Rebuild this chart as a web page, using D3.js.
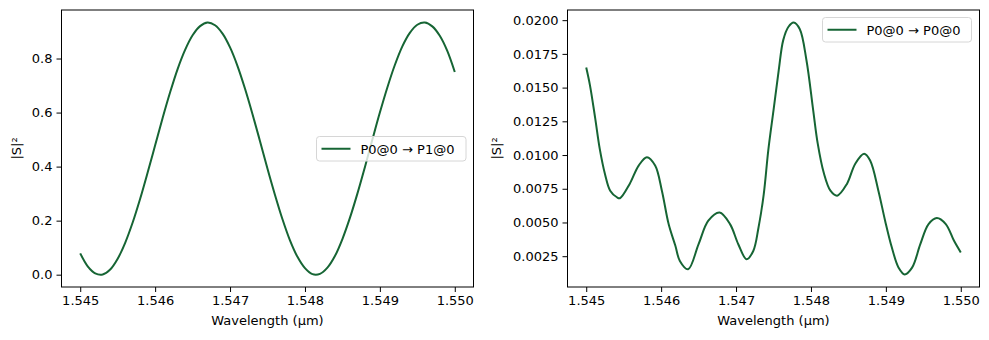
<!DOCTYPE html>
<html>
<head>
<meta charset="utf-8">
<script src="https://cdn.jsdelivr.net/npm/d3@7"></script>
<style>
  body { margin: 0; background: #fff; }
  svg text { font-family: "DejaVu Sans", sans-serif; }
</style>
</head>
<body>
<svg id="chart" width="989" height="340"></svg>
<script>
// left panel: P0@0 -> P1@0, sampled every 0.1 nm
const leftWavelength = [
  1.5450, 1.5451, 1.5452, 1.5453, 1.5454, 1.5455, 1.5456, 1.5457, 1.5458, 1.5459,
  1.5460, 1.5461, 1.5462, 1.5463, 1.5464, 1.5465, 1.5466, 1.5467, 1.5468, 1.5469,
  1.5470, 1.5471, 1.5472, 1.5473, 1.5474, 1.5475, 1.5476, 1.5477, 1.5478, 1.5479,
  1.5480, 1.5481, 1.5482, 1.5483, 1.5484, 1.5485, 1.5486, 1.5487, 1.5488, 1.5489,
  1.5490, 1.5491, 1.5492, 1.5493, 1.5494, 1.5495, 1.5496, 1.5497, 1.5498, 1.5499,
  1.5500];
const leftPower = [
  0.079, 0.031, 0.005, 0.001, 0.019, 0.059, 0.118, 0.193, 0.281, 0.378,
  0.479, 0.580, 0.675, 0.761, 0.832, 0.886, 0.920, 0.933, 0.923, 0.892,
  0.841, 0.772, 0.688, 0.594, 0.494, 0.392, 0.295, 0.205, 0.127, 0.066,
  0.024, 0.002, 0.003, 0.026, 0.069, 0.132, 0.210, 0.300, 0.398, 0.500,
  0.600, 0.693, 0.776, 0.845, 0.895, 0.925, 0.933, 0.919, 0.884, 0.828,
  0.750];

// right panel: P0@0 -> P0@0 (reflection)
const rightWavelength = [
  1.54500, 1.54505, 1.54512, 1.54518, 1.54525, 1.54532, 1.54541, 1.54545, 1.54558, 1.54570,
  1.54581, 1.54592, 1.54601, 1.54610, 1.54619, 1.54625, 1.54636, 1.54650, 1.54663, 1.54678,
  1.54692, 1.54703, 1.54714, 1.54723, 1.54730, 1.54737, 1.54743, 1.54750, 1.54757, 1.54763,
  1.54770, 1.54777, 1.54785, 1.54794, 1.54803, 1.54809, 1.54817, 1.54826, 1.54835, 1.54848,
  1.54859, 1.54871, 1.54879, 1.54890, 1.54899, 1.54908, 1.54917, 1.54925, 1.54935, 1.54946,
  1.54957, 1.54968, 1.54980, 1.54991, 1.55000];
const rightPower = [
  0.01649, 0.01517, 0.01272, 0.01048, 0.00860, 0.00736, 0.00687, 0.00680, 0.00786, 0.00922,
  0.00984, 0.00922, 0.00736, 0.00488, 0.00327, 0.00215, 0.00153, 0.00339, 0.00513, 0.00574,
  0.00488, 0.00339, 0.00228, 0.00289, 0.00463, 0.00711, 0.01033, 0.01331, 0.01629, 0.01852,
  0.01951, 0.01982, 0.01934, 0.01703, 0.01331, 0.01086, 0.00870, 0.00736, 0.00699, 0.00786,
  0.00934, 0.01009, 0.00959, 0.00736, 0.00513, 0.00314, 0.00165, 0.00115, 0.00165, 0.00339,
  0.00488, 0.00533, 0.00488, 0.00364, 0.00278];

const xTicks = [1.545, 1.546, 1.547, 1.548, 1.549, 1.550];
const leftYTicks = [0.0, 0.2, 0.4, 0.6, 0.8];
const rightYTicks = [0.0025, 0.0050, 0.0075, 0.0100, 0.0125, 0.0150, 0.0175, 0.0200];
const leftLabel = 'P0@0 → P1@0';
const rightLabel = 'P0@0 → P0@0';
const xTitle = 'Wavelength (µm)';
const yTitle = '|S|²';

const lineColor = '#166534';
const svg = d3.select('#chart');

// matplotlib-like padded domain (5% each side)
function padded(values) {
  const ext = d3.extent(values);
  const m = (ext[1] - ext[0]) * 0.05;
  return [ext[0] - m, ext[1] + m];
}

function drawPanel(cfg) {
  const sx = d3.scaleLinear().domain(padded(cfg.x)).range([cfg.left, cfg.right]);
  const sy = d3.scaleLinear().domain(padded(cfg.y)).range([cfg.bottom, cfg.top]);
  const g = svg.append('g');

  const xAxis = d3.axisBottom(sx)
    .tickValues(xTicks)
    .tickFormat(d3.format('.3f'))
    .tickSize(5)
    .tickPadding(4);
  const yAxis = d3.axisLeft(sy)
    .tickValues(cfg.yTicks)
    .tickFormat(d3.format(cfg.yFormat))
    .tickSize(5)
    .tickPadding(4);

  g.append('g')
    .attr('transform', `translate(0, ${cfg.bottom})`)
    .call(xAxis);
  g.append('g')
    .attr('transform', `translate(${cfg.left}, 0)`)
    .call(yAxis);

  g.selectAll('.domain').remove();
  g.selectAll('.tick line').attr('stroke', '#000').attr('stroke-width', 1);
  g.selectAll('.tick text').attr('fill', '#000').style('font-size', '13px');

  // frame
  g.append('rect')
    .attr('x', cfg.left)
    .attr('y', cfg.top)
    .attr('width', cfg.right - cfg.left)
    .attr('height', cfg.bottom - cfg.top)
    .attr('fill', 'none')
    .attr('stroke', '#000')
    .attr('stroke-width', 1);

  const pts = cfg.x.map((d, i) => [d, cfg.y[i]]);
  const line = d3.line()
    .x(d => sx(d[0]))
    .y(d => sy(d[1]))
    .curve(d3.curveCatmullRom.alpha(0.5));
  g.append('path')
    .datum(pts)
    .attr('d', line)
    .attr('fill', 'none')
    .attr('stroke', lineColor)
    .attr('stroke-width', 2);

  g.append('text')
    .attr('x', (cfg.left + cfg.right) / 2)
    .attr('y', 325)
    .attr('text-anchor', 'middle')
    .style('font-size', '13px')
    .text(xTitle);

  g.append('text')
    .attr('transform', `translate(${cfg.yTitleX}, ${(cfg.top + cfg.bottom) / 2}) rotate(-90)`)
    .attr('text-anchor', 'middle')
    .style('font-size', '13px')
    .text(yTitle);

  // legend
  const lg = cfg.legend;
  g.append('rect')
    .attr('x', lg.x)
    .attr('y', lg.y)
    .attr('width', lg.w)
    .attr('height', lg.h)
    .attr('rx', 3)
    .attr('fill', 'rgba(255,255,255,0.8)')
    .attr('stroke', '#d6d6d6')
    .attr('stroke-width', 1);
  g.append('line')
    .attr('x1', lg.x + 5)
    .attr('x2', lg.x + 34)
    .attr('y1', lg.y + lg.h / 2)
    .attr('y2', lg.y + lg.h / 2)
    .attr('stroke', lineColor)
    .attr('stroke-width', 2);
  g.append('text')
    .attr('x', lg.x + 44)
    .attr('y', lg.y + lg.h / 2 + 5)
    .style('font-size', '13px')
    .text(lg.label);
}

drawPanel({
  x: leftWavelength, y: leftPower,
  left: 61.5, right: 473.5, top: 10, bottom: 287,
  yTicks: leftYTicks, yFormat: '.1f', yTitleX: 21,
  legend: {x: 316.5, y: 136.5, w: 149.5, h: 24.5, label: leftLabel}
});

drawPanel({
  x: rightWavelength, y: rightPower,
  left: 567.5, right: 979.5, top: 10, bottom: 287,
  yTicks: rightYTicks, yFormat: '.4f', yTitleX: 501,
  legend: {x: 822.5, y: 17.5, w: 149, h: 24.5, label: rightLabel}
});
</script>
</body>
</html>
